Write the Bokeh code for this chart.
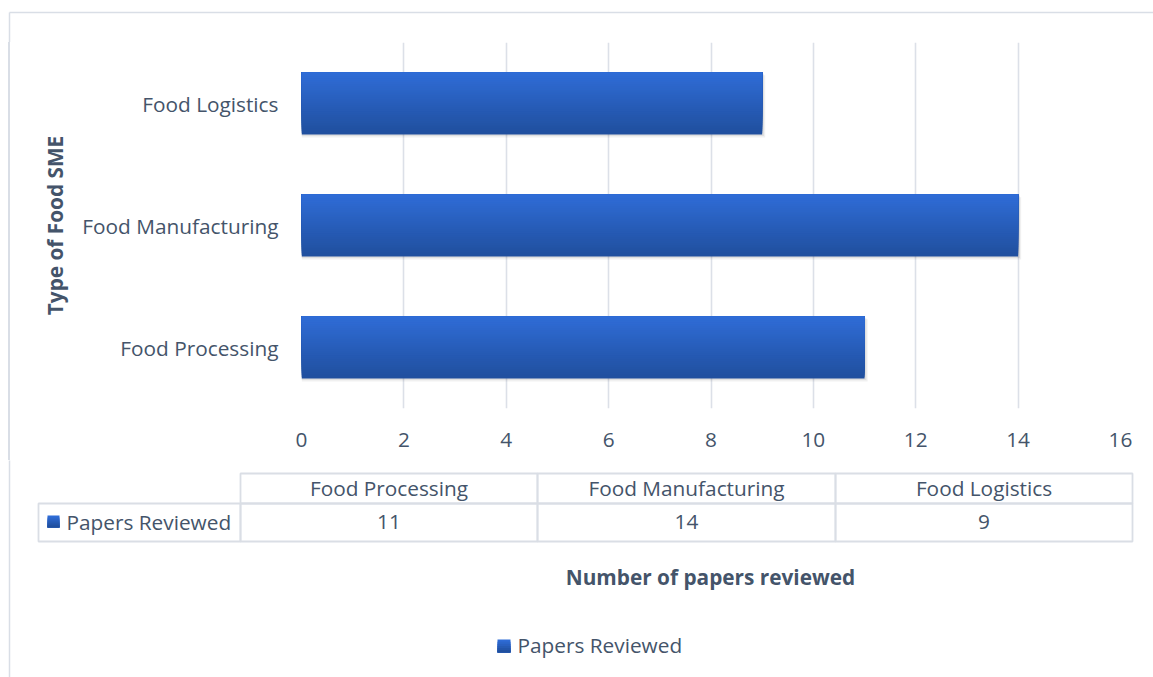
from bokeh.plotting import figure
from bokeh.layouts import column, row
from bokeh.models import FactorRange, Range1d, ColumnDataSource, FixedTicker
from bokeh.transform import dodge
from bokeh.core.properties import value
from bokeh.embed import file_html
from bokeh.resources import INLINE

# ---- data ----
categories = ["Food Processing", "Food Manufacturing", "Food Logistics"]
papers = [11, 14, 9]
series_name = "Papers Reviewed"
x_ticks = [0, 2, 4, 6, 8, 10, 12, 14, 16]
x_title = "Number of papers reviewed"
y_title = "Type of Food SME"

# ---- styles ----
FONT = "Open Sans"
TXT = "#44546A"
GRID = "#DCE0E8"
CELL = "#DADEE5"
OUTER = "#D9DEE6"
TOP_C = (0x2F, 0x6C, 0xD6)
BOT_C = (0x20, 0x4F, 0x9E)
FS = "20.8px"
W, H = 1153, 677
TOP_H, MID_H = 42, 418


def grad(t):
    c = tuple(int(round(BOT_C[i] + (TOP_C[i] - BOT_C[i]) * t)) for i in range(3))
    return "#%02x%02x%02x" % c


def blank(width, height, x0, x1, y0, y1):
    f = figure(width=width, height=height, x_range=Range1d(x0, x1),
               y_range=Range1d(y1, y0),  # flipped: y grows downward like the page
               output_backend="svg", toolbar_location=None,
               x_axis_location=None, y_axis_location=None,
               min_border_left=0, min_border_right=0,
               min_border_top=0, min_border_bottom=0)
    f.outline_line_color = None
    f.grid.visible = False
    f.background_fill_color = "white"
    f.border_fill_color = "white"
    return f


def txt(f, x, y, text, align="center", bold=False, angle=0.0):
    f.text(x=[x], y=[y], text=[text], text_align=align, text_baseline="middle",
           angle=angle, text_font=value(FONT), text_font_size=value(FS),
           text_color=TXT, text_font_style="bold" if bold else "normal")


def vline(f, x, y0, y1, color=OUTER, w=1.5):
    f.segment(x0=[x], y0=[y0], x1=[x], y1=[y1], line_color=color, line_width=w)


def swatch(f, l, t, size):
    n = 6
    for k in range(n):
        f.quad(left=[l], right=[l + size], top=[t + size * k / n],
               bottom=[t + size], fill_color=grad(1 - k / (n - 1)), line_color=None)


# ---- top strip: outer border ----
T = blank(W, TOP_H, 0, W, 0, TOP_H)
T.segment(x0=[9], y0=[12], x1=[W + 5], y1=[12], line_color=OUTER, line_width=1.5)
vline(T, 9, 12, TOP_H + 2)

# ---- main bar chart ----
src = ColumnDataSource(dict(cat=categories, val=papers))
p = figure(width=W, height=MID_H,
           y_range=FactorRange(factors=categories, range_padding=0),
           x_range=Range1d(0, 16),
           output_backend="svg", toolbar_location=None,
           min_border_left=301, min_border_right=W - 1120,
           min_border_top=0, min_border_bottom=MID_H - 366,
           styles={"background-image":
                   "linear-gradient(90deg, rgba(255,255,255,0) 8.25px, %s 8.25px, "
                   "%s 9.75px, rgba(255,255,255,0) 9.75px)" % (OUTER, OUTER),
                   "background-color": "white"})
p.outline_line_color = None
p.background_fill_color = "white"
p.border_fill_color = None
p.ygrid.visible = False
p.xgrid.ticker = FixedTicker(ticks=x_ticks)
p.xgrid.grid_line_color = GRID
p.xgrid.grid_line_width = 1.6
for ax in (p.xaxis, p.yaxis):
    ax.axis_line_color = None
    ax.major_tick_line_color = None
    ax.minor_tick_line_color = None
    ax.major_tick_out = 0
    ax.major_tick_in = 0
    ax.major_label_text_font = FONT
    ax.major_label_text_font_size = FS
    ax.major_label_text_color = TXT
p.xaxis.ticker = FixedTicker(ticks=x_ticks)
p.xaxis.major_label_standoff = 24
p.yaxis.major_label_standoff = 23
p.yaxis.axis_label = y_title
p.yaxis.axis_label_text_font = FONT
p.yaxis.axis_label_text_font_size = FS
p.yaxis.axis_label_text_font_style = "bold"
p.yaxis.axis_label_text_color = TXT
p.yaxis.axis_label_standoff = 10

bar_h = 0.51
# soft shadow
p.hbar(y=dodge("cat", -0.024, range=p.y_range), left=0, right=dodge("val", 0.06),
       height=bar_h, source=src, fill_color="black", fill_alpha=0.06, line_color=None)
p.hbar(y=dodge("cat", -0.012, range=p.y_range), left=0, right=dodge("val", 0.035),
       height=bar_h, source=src, fill_color="black", fill_alpha=0.07, line_color=None)
# vertical gradient: nested bars anchored at the bar top
N = 32
for k in range(N):
    hk = bar_h * (1 - k / N)
    p.hbar(y=dodge("cat", bar_h / 2 - hk / 2, range=p.y_range), left=0, right="val",
           height=hk, source=src, fill_color=grad(k / (N - 1)), line_color=None)

# ---- bottom: data table, axis title, legend ----
B = blank(W, H - TOP_H - MID_H, 0, W, TOP_H + MID_H, H)
vline(B, 9, TOP_H + MID_H - 4, H + 2)
col_x = [38, 240, 537, 835, 1132]
row_y = [473, 503, 541]
hl, hr, ht, hb = [], [], [], []
for j in range(len(categories)):
    hl.append(col_x[j + 1]); hr.append(col_x[j + 2]); ht.append(row_y[0]); hb.append(row_y[1])
for j in range(len(categories) + 1):
    hl.append(col_x[j]); hr.append(col_x[j + 1]); ht.append(row_y[1]); hb.append(row_y[2])
B.quad(left=hl, right=hr, top=ht, bottom=hb, fill_color=None,
       line_color=CELL, line_width=1.8)
for j, cat in enumerate(categories):
    cx = (col_x[j + 1] + col_x[j + 2]) / 2
    txt(B, cx, (row_y[0] + row_y[1]) / 2 - 1, cat)
    txt(B, cx, (row_y[1] + row_y[2]) / 2 - 1, str(papers[j]))
swatch(B, 47, 515, 12)
txt(B, 66, (row_y[1] + row_y[2]) / 2 - 1, series_name, align="left")

txt(B, 710, 576, x_title, bold=True)

swatch(B, 497, 639, 13)
txt(B, 517, 644, series_name, align="left")

layout = column(T, row(p), B)
open("out.html", "w").write(file_html(layout, INLINE))
